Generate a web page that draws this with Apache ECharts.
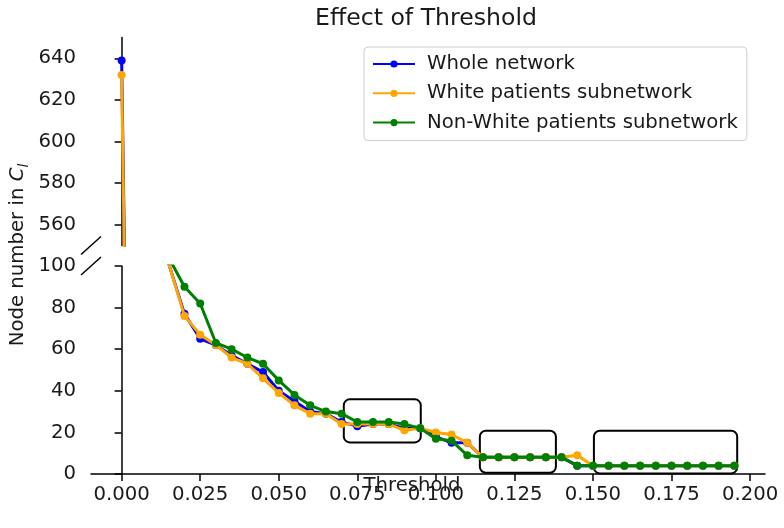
<!DOCTYPE html>
<html><head><meta charset="utf-8">
<script src="https://cdn.jsdelivr.net/npm/echarts@6/dist/echarts.min.js"></script>
<style>html,body{margin:0;padding:0;background:#fff}#c{width:784px;height:528px}</style>
</head><body><div id="c"></div>
<script>
// ---- data ----
const thresholds = [0, 0.005, 0.01, 0.015, 0.02, 0.025, 0.03, 0.035, 0.04, 0.045,
  0.05, 0.055, 0.06, 0.065, 0.07, 0.075, 0.08, 0.085, 0.09, 0.095,
  0.1, 0.105, 0.11, 0.115, 0.12, 0.125, 0.13, 0.135, 0.14, 0.145,
  0.15, 0.155, 0.16, 0.165, 0.17, 0.175, 0.18, 0.185, 0.19, 0.195];
const wholeNetwork = [639, 135, 113, 101, 77, 65, 62, 57, 53, 49,
  40, 35, 30, 29, 25, 23, 24, 24, 22, 22,
  18, 15, 15, 8, 8, 8, 8, 8, 8, 4,
  4, 4, 4, 4, 4, 4, 4, 4, 4, 4];
const whitePatients = [632, 130, 112, 101, 76, 67, 62, 56, 53, 46,
  39, 33, 29, 29, 24, 24, 24, 24, 21, 22,
  20, 19, 15, 8, 8, 8, 8, 8, 8, 9,
  4, 4, 4, 4, 4, 4, 4, 4, 4, 4];
const nonWhitePatients = [300, 125, 110, 104, 90, 82, 63, 60, 56, 53,
  45, 38, 33, 30, 29, 25, 25, 25, 24, 22,
  17, 16, 9, 8, 8, 8, 8, 8, 8, 4,
  4, 4, 4, 4, 4, 4, 4, 4, 4, 4];
const seriesNames = ['Whole network', 'White patients subnetwork', 'Non-White patients subnetwork'];
const xTicks = [0, 0.025, 0.05, 0.075, 0.1, 0.125, 0.15, 0.175, 0.2];
const yTicksTop = [560, 580, 600, 620, 640];
const yTicksBottom = [0, 20, 40, 60, 80, 100];
// highlight boxes in data coords: [x0, y0, x1, y1]
const highlightBoxes = [[0.0707, 15.2, 0.0952, 35.9], [0.114, 0.6, 0.1382, 20.8], [0.1503, 0.3, 0.1959, 20.8]];

// ---- chart ----
const colors = ['#0000ff', '#ffa500', '#008000'];
const seriesValues = [wholeNetwork, whitePatients, nonWhitePatients];
const XMIN = -0.00975, XMAX = 0.20475;
const txt = '#1a1a1a';
const FS = 19.7;
const chart = echarts.init(document.getElementById('c'), null, {renderer: 'canvas'});

const series = [];
for (let g = 0; g < 2; g++) {
  seriesValues.forEach((vals, i) => {
    series.push({
      type: 'line', name: seriesNames[i], xAxisIndex: g, yAxisIndex: g,
      data: thresholds.map((t, k) => [t, vals[k]]),
      symbol: 'circle', symbolSize: 8, showSymbol: true, clip: true,
      color: colors[i], lineStyle: {width: 3, color: colors[i]},
      itemStyle: {color: colors[i]}, z: 2 + i, silent: true, animation: false,
      emphasis: {disabled: true}
    });
  });
}

const axisLineStyle = {show: true, lineStyle: {color: '#000', width: 1.5}};
const option = {
  animation: false,
  title: {text: 'Effect of Threshold', left: 315, top: 7, padding: 0,
    textStyle: {fontFamily: 'DejaVu Sans', fontSize: 23.6, fontWeight: 'normal', color: txt}},
  legend: {
    data: seriesNames, orient: 'vertical', left: 364, top: 47,
    padding: [7, 9, 8, 8], itemGap: 9.3, itemWidth: 42, itemHeight: 9,
    backgroundColor: '#fff', borderColor: '#cccccc', borderWidth: 1, borderRadius: 4,
    textStyle: {fontFamily: 'DejaVu Sans', fontSize: FS, color: txt, padding: [0, 0, 0, 7]},
    selectedMode: false
  },
  grid: [
    {left: 91, right: 19, top: 37.5, height: 208},
    {left: 91, right: 19, top: 266, height: 208}
  ],
  xAxis: [
    {type: 'value', gridIndex: 0, min: XMIN, max: XMAX, show: false},
    {type: 'value', gridIndex: 1, min: XMIN, max: XMAX,
      axisLine: axisLineStyle, splitLine: {show: false},
      axisTick: {show: true, length: 7, customValues: xTicks, lineStyle: {color: '#000', width: 1.5}},
      axisLabel: {customValues: xTicks, formatter: v => v.toFixed(3), margin: 11,
        fontFamily: 'DejaVu Sans', fontSize: FS, color: txt}}
  ],
  yAxis: [
    {type: 'value', gridIndex: 0, min: 550, max: 650,
      axisLine: axisLineStyle, splitLine: {show: false},
      axisTick: {show: true, length: 7, customValues: yTicksTop, lineStyle: {color: '#000', width: 1.5}},
      axisLabel: {customValues: yTicksTop, margin: 15, fontFamily: 'DejaVu Sans', fontSize: FS, color: txt}},
    {type: 'value', gridIndex: 1, min: 0, max: 100,
      axisLine: axisLineStyle, splitLine: {show: false},
      axisTick: {show: true, length: 7, customValues: yTicksBottom, lineStyle: {color: '#000', width: 1.5}},
      axisLabel: {customValues: yTicksBottom, margin: 15, fontFamily: 'DejaVu Sans', fontSize: FS, color: txt}}
  ],
  series: series
};
chart.setOption(option);

// annotations: boxes, break marks, axis labels
const graphics = [];
highlightBoxes.forEach(b => {
  const p0 = chart.convertToPixel({gridIndex: 1}, [b[0], b[3]]);
  const p1 = chart.convertToPixel({gridIndex: 1}, [b[2], b[1]]);
  graphics.push({type: 'rect', z: 1, silent: true,
    shape: {x: p0[0], y: p0[1], width: p1[0] - p0[0], height: p1[1] - p0[1], r: 6},
    style: {fill: 'none', stroke: '#000', lineWidth: 2}});
});
const topBreak = chart.convertToPixel({gridIndex: 0}, [XMIN, 550]);
const botBreak = chart.convertToPixel({gridIndex: 1}, [XMIN, 100]);
[topBreak, botBreak].forEach(p => {
  graphics.push({type: 'line', silent: true, z: 5,
    shape: {x1: p[0] - 10, y1: p[1] + 9, x2: p[0] + 10, y2: p[1] - 9},
    style: {stroke: '#000', lineWidth: 1.5}});
});
graphics.push({type: 'text', silent: true, x: 412, y: 486,
  style: {text: 'Threshold', font: FS + 'px "DejaVu Sans"', fill: txt, align: 'center', verticalAlign: 'middle'}});
graphics.push({type: 'text', silent: true, x: 18, y: 255, rotation: Math.PI / 2,
  style: {text: '{n|Node number in }{c|C}{s|l}', align: 'center', verticalAlign: 'middle', fill: txt,
    rich: {
      n: {fontFamily: 'DejaVu Sans', fontSize: FS, lineHeight: 26, fill: txt},
      c: {fontFamily: 'DejaVu Sans', fontSize: FS, fontStyle: 'italic', lineHeight: 26, fill: txt},
      s: {fontFamily: 'DejaVu Sans', fontSize: 14, fontStyle: 'italic', lineHeight: 14, verticalAlign: 'bottom', fill: txt}
    }}});
chart.setOption({graphic: graphics});
</script>
</body></html>
